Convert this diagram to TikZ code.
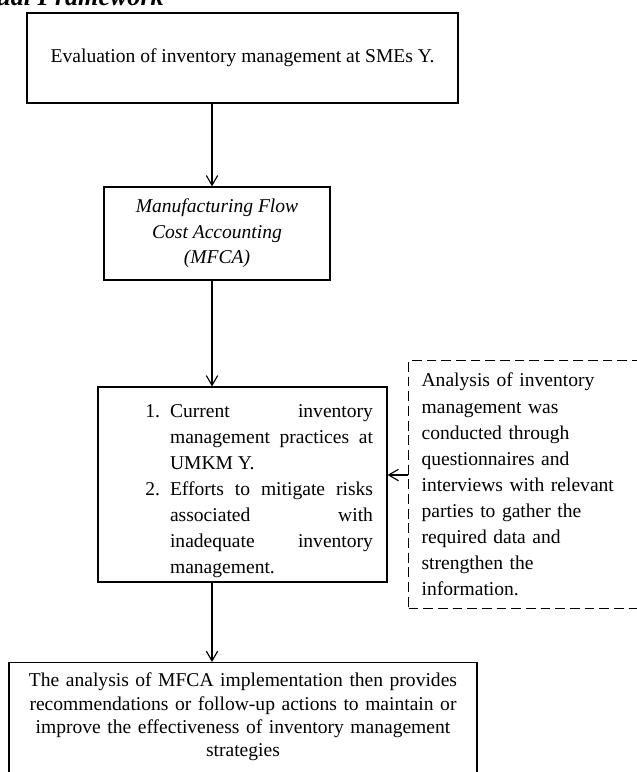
\documentclass[tikz,border=0pt]{standalone}
\usepackage{fontspec}
\setmainfont{Liberation Serif}
\usepackage{enumitem}
\usetikzlibrary{arrows.meta}

\gdef\Bline{0.7pt}

\begin{document}
\begin{tikzpicture}[x=0.6135pt, y=-0.6135pt,
  box/.style={draw, line width=\Bline, rectangle, inner sep=0pt, align=center, font=\fontsize{12}{16}\selectfont},
  arr/.style={-{Straight Barb[length=6pt,width=7pt]}, line width=\Bline}]
\useasboundingbox (0,0) rectangle (636,772);

\node[anchor=base west, inner sep=0pt, font=\fontsize{16}{16}\selectfont\bfseries\itshape] (title) at (-4,5) {ual Framework};

\node[box, minimum width=264.4pt, minimum height=55.2pt] (eval) at (242.5,58) {Evaluation of inventory management at SMEs Y.};
\node[box, minimum width=138.7pt, minimum height=57.1pt, font=\fontsize{12}{15.6}\selectfont\itshape] (mfca) at (217,233.5) {Manufacturing Flow\\ Cost Accounting\\ (MFCA)};
\node[box, minimum width=177.3pt, minimum height=119.6pt, inner xsep=8.6pt, text width=160.1pt, align=justify] (prac) at (242.5,484.5) {\tolerance=10000\hyphenpenalty=10000
  \begin{enumerate}[leftmargin=35.6pt, labelsep=6.1pt, itemsep=0pt, topsep=0pt, parsep=0pt, partopsep=0pt]
  \item Current inventory\linebreak management practices at\linebreak UMKM Y.
  \item Efforts to mitigate risks\linebreak associated with\linebreak inadequate inventory\linebreak management.
  \end{enumerate}};
\node[box, dashed, dash pattern=on 6pt off 3pt, anchor=north west, minimum width=148.5pt, minimum height=152.1pt, inner xsep=8pt, text width=132.5pt, align=left] (note) at (408,360) {Analysis of inventory\\ management was\\ conducted through\\ questionnaires and\\ interviews with relevant\\ parties to gather the\\ required data and\\ strengthen the\\ information.};
\node[box, anchor=north, inner xsep=10pt, inner ysep=6.5pt, text width=267.1pt, font=\fontsize{12}{14.3}\selectfont] (recom) at (243,662) {The analysis of MFCA implementation then provides\\ recommendations or follow-up actions to maintain or\\ improve the effectiveness of inventory management\\ strategies\rule[-24pt]{0pt}{1pt}};

% connectors
\coordinate (axis) at (212,0);
\coordinate (side) at (0,475);
\draw[arr] (eval.south -| axis) -- (mfca.north -| axis);
\draw[arr] (mfca.south -| axis) -- (prac.north -| axis);
\draw[arr] (prac.south -| axis) -- (recom.north -| axis);
\draw[arr] (note.west |- side) -- (prac.east |- side);
\end{tikzpicture}
\end{document}
